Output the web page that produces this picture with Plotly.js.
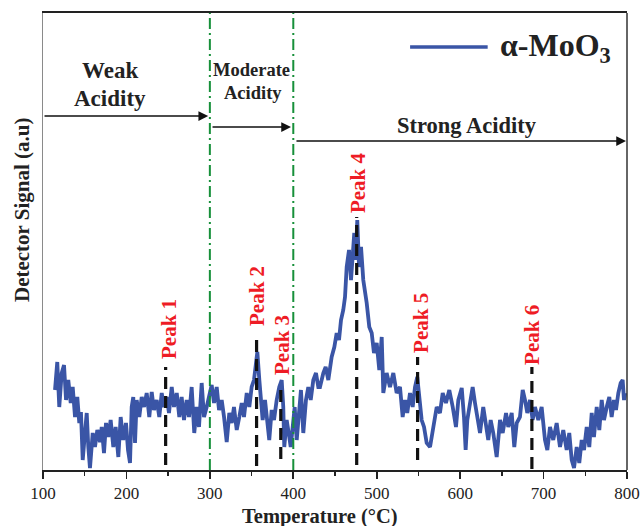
<!DOCTYPE html>
<html>
<head>
<meta charset="utf-8">
<script src="https://cdn.plot.ly/plotly-3.0.1.min.js"></script>
<style>html,body{margin:0;padding:0;background:#fff;}#chart{width:641px;height:526px;}</style>
</head>
<body>
<div id="chart"></div>
<script>
// Temperature (°C) and detector signal (a.u.)
const temperature = [114.4,117.1,119.5,122.4,125.2,127.6,130.3,133.2,135.6,138.4,141.1,143.5,145.5,147.6,150.3,152.4,154.3,156.3,159.6,162.3,165.1,168.3,170.4,173.1,175.5,178.3,181.1,184.3,187.1,190.3,193.1,196.2,199.5,201.9,204.3,206.3,208.2,210.3,212.3,215.4,218.3,221.1,224.3,227.4,230.3,233.0,236.3,239.4,242.3,245.0,248.3,251.0,254.3,257.0,260.3,263.4,266.2,269.0,272.2,275.0,278.2,281.3,284.2,287.0,290.2,293.0,296.2,299.3,302.2,305.0,308.2,311.0,314.2,317.0,320.2,323.3,326.2,328.9,332.2,335.3,338.2,340.9,344.2,347.3,350.1,352.9,355.3,356.9,359.3,360.9,363.3,366.1,368.8,371.2,374.1,376.9,380.1,383.2,386.1,388.0,389.2,392.1,394.5,396.9,399.3,401.7,404.1,406.8,409.2,412.0,415.2,418.0,420.9,424.0,427.2,430.0,432.0,436.0,438.8,442.0,446.0,449.2,452.0,454.8,457.2,459.9,462.0,464.0,466.8,469.2,471.2,473.1,474.8,476.7,478.8,481.2,483.9,488.0,491.1,494.0,496.7,500.0,503.1,506.0,507.9,511.9,515.9,519.9,523.9,527.9,531.1,533.9,536.6,539.9,543.1,545.9,548.6,551.0,553.9,556.7,559.9,563.9,567.8,571.9,575.8,579.1,583.0,587.0,591.1,595.0,597.8,601.9,604.6,606.6,608.6,611.8,615.0,617.8,620.6,623.8,627.7,631.0,633.7,636.6,639.7,643.8,647.8,651.0,655.0,657.7,661.8,664.9,667.8,671.7,675.0,677.7,680.5,683.7,686.9,689.7,693.7,697.7,701.7,704.5,707.7,711.6,715.7,719.7,723.6,727.7,730.8,733.7,736.5,739.7,742.8,745.7,748.5,751.7,754.8,757.7,760.4,763.7,766.8,769.7,772.4,775.7,778.8,781.6,784.4,786.8,789.6,792.4,794.8,796.4,797.9];
const signal = [80,108,63,97,105,70,90,67,83,53,73,47,58,10,37,57,23,2,37,23,40,28,43,17,47,33,50,23,43,13,53,30,47,20,7,63,73,27,70,53,73,63,77,53,78,60,70,53,77,63,73,57,83,63,77,53,73,50,70,53,83,37,63,43,87,53,63,77,85,67,83,60,70,53,28,57,47,63,40,53,67,53,77,63,83,90,107,118,90,70,50,70,43,30,60,50,70,83,90,63,23,50,37,23,43,63,30,57,80,37,70,83,70,90,97,83,83,97,103,90,113,123,137,130,150,160,173,203,220,190,213,237,210,250,203,223,190,167,143,137,117,127,100,133,77,97,83,97,77,83,53,70,57,77,63,83,93,70,50,43,27,23,43,63,57,77,67,80,63,43,70,82,53,20,50,67,83,67,50,37,63,47,30,50,37,13,50,37,57,43,57,23,47,53,80,70,57,70,50,63,50,63,30,20,43,30,47,23,40,20,37,10,2,23,7,30,20,43,23,57,33,63,40,70,50,63,73,53,70,60,77,87,90,70,77];

const seriesName = "α-MoO<sub>3</sub>";
const xTicks = [100,200,300,400,500,600,700,800];
const regionBounds = [300, 400];
const peakNames = ["Peak 1","Peak 2","Peak 3","Peak 4","Peak 5","Peak 6"];
const peakTemps = [247, 356, 385, 476, 549, 686];
const peakLineTop = [103, 135, 83, 253, 113, 103];
const peakLineBottom = [5, 4, 11, 5, 10, 1];
const peakLabelX = [251, 356.5, 386.5, 477.6, 553, 686];
const peakLabelY = [141, 174, 125, 287, 147, 135];

const serif = "Liberation Serif, Times New Roman, serif";
const blue = "#3a55a6";
const red = "#ee1c25";
const green = "#17903a";

const trace = {
  x: temperature, y: signal, type: "scatter", mode: "lines",
  line: {color: blue, width: 3.8}, showlegend: false, hoverinfo: "skip"
};

const shapes = [];
regionBounds.forEach(t => shapes.push({
  type: "line", xref: "x", yref: "paper", x0: t, x1: t, y0: 0, y1: 1,
  line: {color: green, width: 2, dash: "11px,4px,2px,4px"}
}));
peakTemps.forEach((t, i) => shapes.push({
  type: "line", xref: "x", yref: "y", x0: t, x1: t, y0: peakLineBottom[i], y1: peakLineTop[i],
  line: {color: "#111", width: 3.2, dash: "12px,7px"}
}));
shapes.push({type: "line", xref: "paper", yref: "paper", x0: 1, x1: 1, y0: 0, y1: 1, line: {color: "#333", width: 1.5}});
shapes.push({type: "line", xref: "x", yref: "y", x0: 540, x1: 633, y0: 423, y1: 423, line: {color: blue, width: 3.5}});

const annotations = [];
peakNames.forEach((n, i) => annotations.push({
  x: peakLabelX[i], y: peakLabelY[i], xref: "x", yref: "y", text: "<b>" + n + "</b>",
  textangle: -90, showarrow: false, font: {family: serif, size: 21, color: red}
}));
const txt = (x, y, t, size) => ({x: x, y: y, xref: "x", yref: "y", text: "<b>" + t + "</b>", showarrow: false, font: {family: serif, size: size, color: "#222"}});
annotations.push(txt(180.3, 400, "Weak", 23));
annotations.push(txt(180.3, 372, "Acidity", 23));
annotations.push(txt(350.5, 400, "Moderate", 18.5));
annotations.push(txt(352, 377, "Acidity", 18.5));
annotations.push(txt(608, 345, "Strong Acidity", 22.5));
annotations.push({x: 645, y: 423, xref: "x", yref: "y", xanchor: "left", text: "<b>" + seriesName + "</b>", showarrow: false, font: {family: serif, size: 32, color: "#222"}});
const arrow = (x0, x1, y) => ({x: x1, y: y, ax: x0, ay: y, xref: "x", yref: "y", axref: "x", ayref: "y", text: "", showarrow: true, arrowhead: 2, arrowsize: 1.3, arrowwidth: 1.5, arrowcolor: "#111"});
annotations.push(arrow(100, 298, 354));
annotations.push(arrow(301.4, 397.3, 343));
annotations.push(arrow(402, 798.8, 329));
annotations.push({x: (22 - 43) / 584, y: (470 - 210) / 457, xref: "paper", yref: "paper", xanchor: "center", yanchor: "middle", text: "<b>Detector Signal (a.u)</b>", textangle: -90, showarrow: false, font: {family: serif, size: 21, color: "#222"}});
annotations.push({x: (320 - 43) / 584, y: -46 / 457, xref: "paper", yref: "paper", xanchor: "center", yanchor: "middle", text: "<b>Temperature (°C)</b>", showarrow: false, font: {family: serif, size: 20.5, color: "#222"}});

const layout = {
  width: 641, height: 526,
  margin: {l: 43, r: 14, t: 13, b: 56},
  paper_bgcolor: "#fff", plot_bgcolor: "#fff",
  xaxis: {
    range: [100, 800], tickvals: xTicks, ticks: "outside", ticklen: 7, tickwidth: 1.8, tickcolor: "#222",
    showline: true, linewidth: 2, linecolor: "#222", mirror: true, showgrid: false, zeroline: false,
    tickfont: {family: serif, size: 17, color: "#222"},
    minor: {dtick: 50, tick0: 100, ticks: "outside", ticklen: 4, tickwidth: 1.5, tickcolor: "#222", showgrid: false},
    title: {text: ""}
  },
  yaxis: {
    range: [0, 457], showticklabels: false, ticks: "", showline: true, linewidth: 1.5, linecolor: "#8a8a8a",
    showgrid: false, zeroline: false, title: {text: ""}
  },
  shapes: shapes,
  annotations: annotations
};

Plotly.newPlot("chart", [trace], layout, {staticPlot: true, displayModeBar: false});
</script>
</body>
</html>
